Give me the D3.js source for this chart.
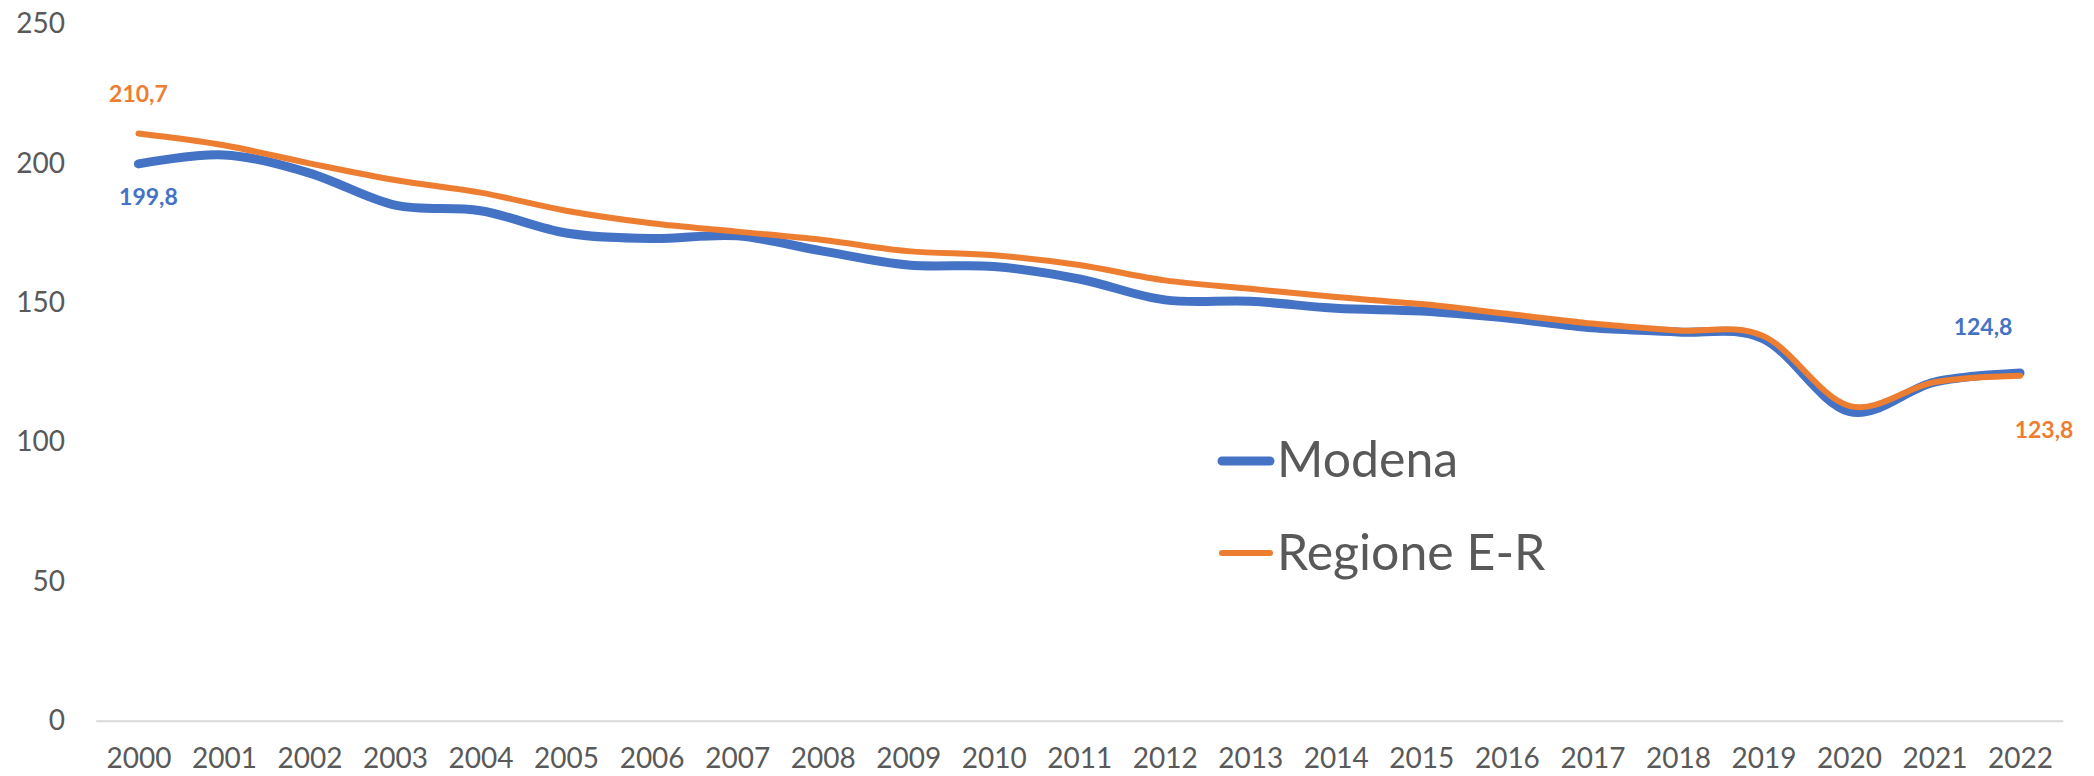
<!DOCTYPE html>
<html>
<head>
<meta charset="utf-8">
<script src="https://cdn.jsdelivr.net/npm/d3@7"></script>
<style>
    html, body { margin: 0; padding: 0; background: #ffffff; }
    #chart { width: 2094px; height: 776px; }
    text { font-family: Lato, "Open Sans", sans-serif; }
</style>
</head>
<body>
<div id="chart"></div>
<script>

// data
var years = ["2000", "2001", "2002", "2003", "2004", "2005", "2006", "2007", "2008", "2009", "2010",
             "2011", "2012", "2013", "2014", "2015", "2016", "2017", "2018", "2019", "2020", "2021", "2022"];

var modena = [199.8, 203, 196.5, 185, 183, 175, 173, 174, 168.5, 163.5, 163,
              158.5, 151, 150.5, 148, 147, 144.5, 141, 139.5, 137, 111, 121.5, 124.8];

var regione = [210.7, 206.5, 200, 194, 189.5, 183, 178.5, 175.5, 172.5, 168.5, 167,
               163.5, 158, 155, 152, 149.5, 146, 142.5, 140, 138, 113, 121.5, 123.8];

var yTicks = [0, 50, 100, 150, 200, 250];

var seriesNames = ["Modena", "Regione E-R"];

var iWidth = 2094;
var iHeight = 776;

var cBlue = "#4472C4";
var cOrange = "#ED7D31";
var cText = "#595959";

var dSVG = d3.select("#chart")
    .append("svg")
    .attr("width", iWidth)
    .attr("height", iHeight);

var x = d3.scalePoint()
    .domain(years)
    .range([95.7, 2062.8])
    .padding(0.5);

var y = d3.scaleLinear()
    .domain([0, 250])
    .range([720.7, 24]);

// y labels (no gridlines in the original, only the base line)
var yAxis = d3.axisLeft(y)
    .tickValues(yTicks)
    .tickSize(0)
    .tickPadding(0);

var gY = dSVG.append("g")
    .attr("transform", "translate(65,0)")
    .call(yAxis);

gY.select(".domain").remove();
gY.selectAll("text")
    .attr("font-size", 28)
    .attr("fill", cText)
    .attr("font-family", "Lato, sans-serif");

// x axis along the zero line
var xAxis = d3.axisBottom(x)
    .tickSize(0)
    .tickPadding(0);

var gX = dSVG.append("g")
    .attr("transform", "translate(0," + y(0) + ")")
    .call(xAxis);

gX.select(".domain")
    .attr("stroke", "#D9D9D9")
    .attr("stroke-width", 2);

gX.selectAll("text")
    .attr("font-size", 28)
    .attr("fill", cText)
    .attr("font-family", "Lato, sans-serif")
    .attr("dy", null)
    .attr("y", 47);

// smoothed lines like Excel
var line = d3.line()
    .x(function(d, i) { return x(years[i]); })
    .y(function(d) { return y(d); })
    .curve(d3.curveCardinal);

dSVG.append("path")
    .datum(modena)
    .attr("d", line)
    .attr("fill", "none")
    .attr("stroke", cBlue)
    .attr("stroke-width", 9)
    .attr("stroke-linecap", "round")
    .attr("stroke-linejoin", "round");

dSVG.append("path")
    .datum(regione)
    .attr("d", line)
    .attr("fill", "none")
    .attr("stroke", cOrange)
    .attr("stroke-width", 6)
    .attr("stroke-linecap", "round")
    .attr("stroke-linejoin", "round");

// data labels on first and last points
var iLast = years.length - 1;

var aLabels = [
    { v: regione[0], i: 0, dx: 0, dy: -32, c: cOrange },
    { v: modena[0], i: 0, dx: 10, dy: 41, c: cBlue },
    { v: modena[iLast], i: iLast, dx: -37, dy: -38, c: cBlue },
    { v: regione[iLast], i: iLast, dx: 24, dy: 62, c: cOrange }
];

dSVG.selectAll("text.lbl")
    .data(aLabels)
    .enter()
    .append("text")
    .attr("class", "lbl")
    .attr("x", function(d) { return x(years[d.i]) + d.dx; })
    .attr("y", function(d) { return y(d.v) + d.dy; })
    .attr("text-anchor", "middle")
    .attr("font-size", 23)
    .attr("font-weight", "bold")
    .attr("fill", function(d) { return d.c; })
    .text(function(d) { return d3.format(".1f")(d.v).replace(".", ","); });

// legend
var aLegend = [
    { name: seriesNames[0], c: cBlue, w: 9, yLine: 461, yText: 477 },
    { name: seriesNames[1], c: cOrange, w: 6, yLine: 553, yText: 570 }
];

var gLeg = dSVG.append("g");

gLeg.selectAll("line")
    .data(aLegend)
    .enter()
    .append("line")
    .attr("x1", 1222)
    .attr("x2", 1270)
    .attr("y1", function(d) { return d.yLine; })
    .attr("y2", function(d) { return d.yLine; })
    .attr("stroke", function(d) { return d.c; })
    .attr("stroke-width", function(d) { return d.w; })
    .attr("stroke-linecap", "round");

gLeg.selectAll("text")
    .data(aLegend)
    .enter()
    .append("text")
    .attr("x", 1277)
    .attr("y", function(d) { return d.yText; })
    .attr("font-size", 50)
    .attr("fill", cText)
    .text(function(d) { return d.name; });

</script>
</body>
</html>
